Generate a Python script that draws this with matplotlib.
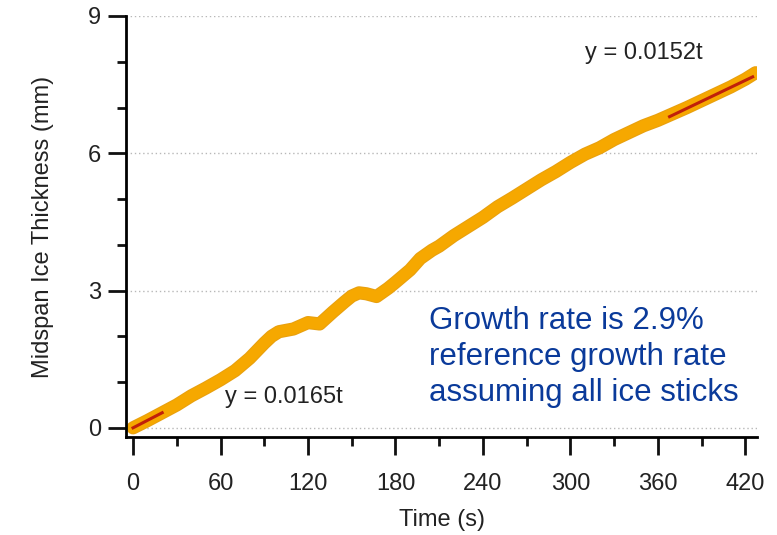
"""Midspan ice thickness vs time"""

import numpy as np
import matplotlib
matplotlib.use("Agg")
import matplotlib.pyplot as plt
import matplotlib.patheffects as pe
from matplotlib.ticker import MultipleLocator

plt.rcParams['font.family'] = ['Liberation Sans', 'DejaVu Sans']

time_s = [0, 10, 20, 30, 40, 50, 60, 70, 80, 90, 95, 100, 110, 120, 128,
          137, 145, 150, 155, 160, 167, 175, 180, 190, 197, 205, 210, 220,
          230, 240, 250, 260, 270, 280, 290, 300, 310, 320, 330, 340, 350,
          360, 370, 380, 390, 400, 410, 420, 427]
thickness_mm = [0.0, 0.16, 0.33, 0.5, 0.7, 0.87, 1.05, 1.25, 1.52, 1.85, 2.0,
                2.1, 2.16, 2.3, 2.27, 2.53, 2.75, 2.88, 2.95, 2.93, 2.87,
                3.05, 3.18, 3.45, 3.7, 3.88, 3.97, 4.2, 4.4, 4.6, 4.83, 5.02,
                5.22, 5.42, 5.6, 5.8, 5.98, 6.12, 6.3, 6.45, 6.6, 6.72, 6.86,
                7.0, 7.15, 7.3, 7.45, 7.62, 7.76]

# linear fits
fit1_t = [0, 20]
fit1_y = [0.0, 0.33]
fit2_t = [368, 425]
fit2_y = [6.8, 7.67]

xticks = [0, 60, 120, 180, 240, 300, 360, 420]
yticks = [0, 3, 6, 9]

fig = plt.figure(figsize=(7.77, 5.35), dpi=100)
ax = fig.add_axes([0.1622, 0.1832, 0.8121, 0.7869])

for y in yticks:
    ax.axhline(y, color='#b8b8b8', lw=1, ls=(0, (1, 2)), zorder=0)

ax.plot(time_s, thickness_mm, color='#F6A800', lw=8, solid_capstyle='round',
        solid_joinstyle='round',
        path_effects=[pe.Stroke(linewidth=9.5, foreground='#E8A010'), pe.Normal()],
        zorder=2)
ax.plot(fit1_t, fit1_y, color='#C0200A', lw=2.2, zorder=3)
ax.plot(fit2_t, fit2_y, color='#C0200A', lw=2.2, zorder=3)

ax.text(63, 0.68, 'y = 0.0165t', fontsize=17, color='#222222', va='center')
ax.text(310, 8.2, 'y = 0.0152t', fontsize=17, color='#222222', va='center')
ax.text(203, 1.55, 'Growth rate is 2.9%\nreference growth rate\nassuming all ice sticks',
        fontsize=22.5, color='#0A3A9A', va='center', ha='left', linespacing=1.25)

ax.set_xlim(-4.8, 428)
ax.set_ylim(-0.2, 9)
ax.spines['top'].set_visible(False)
ax.spines['right'].set_visible(False)
ax.spines['left'].set_bounds(-0.2, 9)
for s in ('left', 'bottom'):
    ax.spines[s].set_linewidth(2)

ax.set_xticks(xticks)
ax.set_yticks(yticks)
ax.xaxis.set_minor_locator(MultipleLocator(30))
ax.yaxis.set_minor_locator(MultipleLocator(1))
ax.tick_params(which='major', length=13, width=2, labelsize=17,
               color='#111111', labelcolor='#222222')
ax.tick_params(which='minor', length=6.5, width=2, color='#111111')
ax.tick_params(axis='x', which='major', pad=13)
ax.tick_params(axis='y', which='major', pad=5)

ax.set_xlabel('Time (s)', fontsize=17, labelpad=10, color='#222222')
ax.set_ylabel('Midspan Ice Thickness (mm)', fontsize=17, labelpad=24, color='#222222')

fig.savefig('out.png', dpi=100)
